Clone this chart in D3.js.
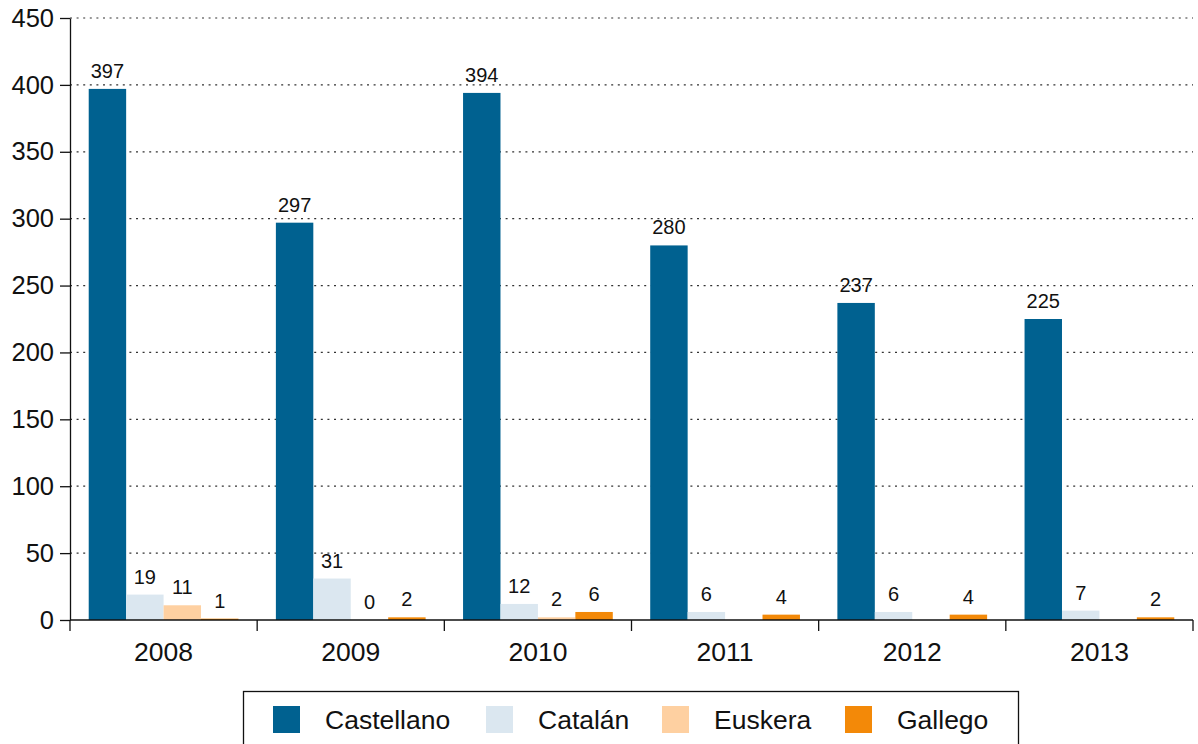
<!DOCTYPE html>
<html>
<head>
<meta charset="utf-8">
<script src="https://cdn.jsdelivr.net/npm/d3@7"></script>
<style>
  html, body { margin: 0; padding: 0; background: #fff; }
  svg { display: block; font-family: "Liberation Sans", Arial, Helvetica, sans-serif; }
</style>
</head>
<body>
<svg id="chart" width="1198" height="744"></svg>
<script>
// Years on the x axis
const years = ["2008", "2009", "2010", "2011", "2012", "2013"];
// Language series
const languages = ["Castellano", "Catalán", "Euskera", "Gallego"];
const colors = ["#006190", "#dbe7f0", "#fed0a1", "#f38908"];
// Values per year (null = no value reported)
const castellano = [397, 297, 394, 280, 237, 225];
const catalan    = [19, 31, 12, 6, 6, 7];
const euskera    = [11, 0, 2, null, null, null];
const gallego    = [1, 2, 6, 4, 4, 2];
const yTicks = [0, 50, 100, 150, 200, 250, 300, 350, 400, 450];

const series = [castellano, catalan, euskera, gallego];

const svg = d3.select("#chart");
const margin = { left: 70, right: 5, top: 18, bottom: 124 };
const plotW = 1193 - margin.left;
const y0 = 620;
const FONT = "Liberation Sans, Arial, sans-serif";

const x0 = d3.scaleBand().domain(years).range([margin.left, margin.left + plotW]).padding(0);
const step = x0.bandwidth();
const x1 = d3.scaleBand().domain(languages).range([step * 0.1, step * 0.9]).padding(0);
const y = d3.scaleLinear().domain([0, 450]).range([y0, margin.top]);

// Dotted gridlines
svg.append("g")
  .selectAll("line")
  .data(yTicks.filter(t => t > 0))
  .join("line")
  .attr("x1", margin.left).attr("x2", margin.left + plotW)
  .attr("y1", d => y(d)).attr("y2", d => y(d))
  .attr("stroke", "#333").attr("stroke-width", 1.2)
  .attr("stroke-dasharray", "2,4.6");

// Bars
const groups = svg.append("g")
  .selectAll("g")
  .data(years)
  .join("g")
  .attr("transform", d => `translate(${x0(d)},0)`);

const cells = groups.selectAll("g.cell")
  .data((yr, i) => languages.map((lang, j) => ({ lang, j, v: series[j][i] })))
  .join("g").attr("class", "cell");

cells.filter(d => d.v !== null)
  .append("rect")
  .attr("x", d => x1(d.lang))
  .attr("width", x1.bandwidth())
  .attr("y", d => y(d.v))
  .attr("height", d => y0 - y(d.v))
  .attr("fill", d => colors[d.j]);

cells.filter(d => d.v !== null)
  .append("text")
  .attr("x", d => x1(d.lang) + x1.bandwidth() / 2)
  .attr("y", d => y(d.v) - 11)
  .attr("text-anchor", "middle")
  .attr("font-size", 20)
  .attr("font-family", FONT)
  .attr("fill", "#111")
  .text(d => d.v);

// Y axis
const yAxis = d3.axisLeft(y).tickValues(yTicks).tickSize(10).tickPadding(6).tickSizeOuter(0);
const gy = svg.append("g").attr("transform", `translate(${margin.left},0)`).call(yAxis);
gy.attr("font-size", 25.5).attr("font-family", FONT);
gy.select(".domain").attr("stroke", "#111").attr("stroke-width", 1.3);
gy.selectAll(".tick line").attr("stroke", "#111").attr("stroke-width", 1.3);
gy.selectAll(".tick text").attr("fill", "#111");

// X axis with ticks at group boundaries
const gx = svg.append("g").attr("transform", `translate(0,${y0})`);
gx.append("line")
  .attr("x1", margin.left).attr("x2", margin.left + plotW)
  .attr("stroke", "#111").attr("stroke-width", 1.3);
const bounds = years.map(d => x0(d)).concat([x0(years[years.length - 1]) + step]);
gx.selectAll("line.tk").data(bounds).join("line").attr("class", "tk")
  .attr("x1", d => d).attr("x2", d => d).attr("y1", 0).attr("y2", 11)
  .attr("stroke", "#111").attr("stroke-width", 1.3);
gx.selectAll("text").data(years).join("text")
  .attr("x", d => x0(d) + step / 2)
  .attr("y", 32)
  .attr("dy", "0.35em")
  .attr("text-anchor", "middle")
  .attr("font-size", 26.5)
  .attr("font-family", FONT)
  .attr("fill", "#111")
  .text(d => d);

// Legend
const legend = svg.append("g");
legend.append("rect")
  .attr("x", 243.5).attr("y", 691.5).attr("width", 775).attr("height", 70)
  .attr("fill", "#fff").attr("stroke", "#111").attr("stroke-width", 1.3);
const legendX = [273, 486, 662, 845];
const items = legend.selectAll("g.item").data(languages).join("g")
  .attr("class", "item")
  .attr("transform", (d, i) => `translate(${legendX[i]},706)`);
items.append("rect").attr("width", 27).attr("height", 27)
  .attr("fill", (d, i) => colors[i]);
items.append("text").attr("x", 52).attr("y", 13.5).attr("dy", "0.35em")
  .attr("font-size", 26.5).attr("font-family", FONT)
  .attr("fill", "#111").text(d => d);
</script>
</body>
</html>
